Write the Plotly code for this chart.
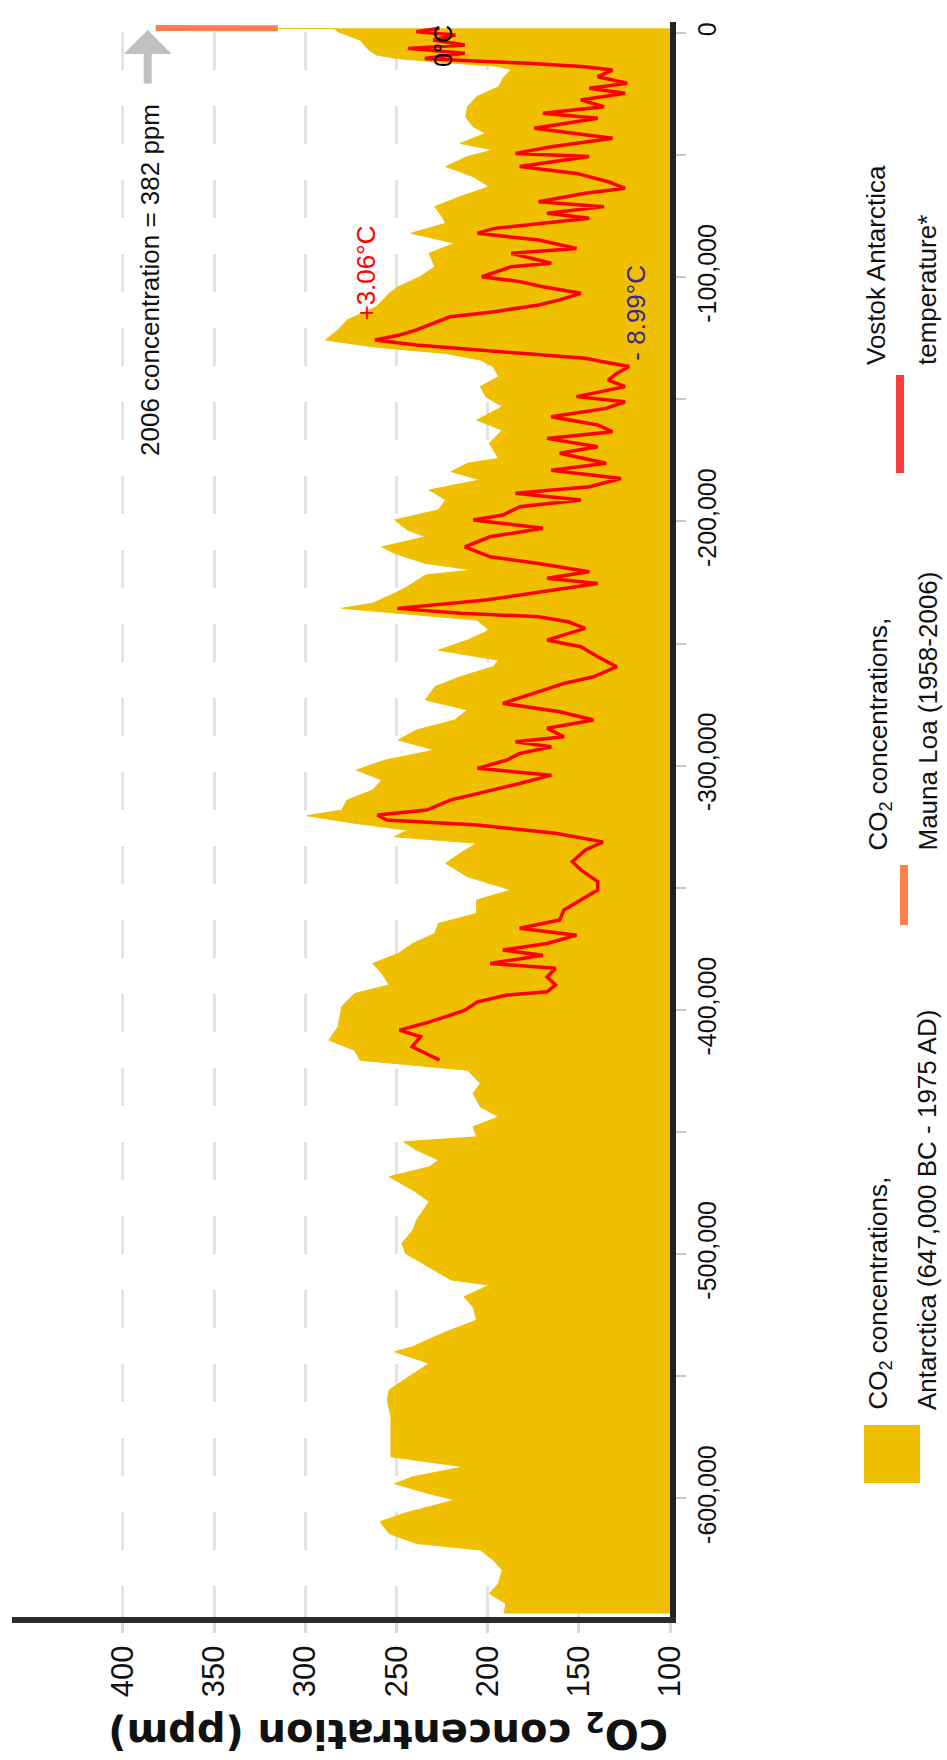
import plotly.graph_objects as go

# --- Antarctic ice-core CO2 (calendar year, ppm), newest first ---
co2_year = [1975, 1900, 1800, 500, -100, -2900, -7000, -9000, -10400, -12000, -13600,
            -15000, -17900, -22000, -26100, -30200, -34300, -38400, -41100, -45200, -47900,
            -50600, -54700, -58800, -62900, -67000, -71100, -75200, -77900, -82000, -86100,
            -90200, -95700, -99800, -103900, -106600, -112100, -117500, -121600, -125700,
            -128500, -131200, -133900, -136600, -140700, -144800, -148900, -153000, -158500,
            -162600, -168000, -174200, -176200, -179600, -183000, -187100, -191200, -195300,
            -199400, -203500, -206300, -210400, -213100, -217200, -219900, -221900, -226700,
            -229400, -233500, -235600, -237600, -240400, -244500, -248600, -252700, -256800,
            -259500, -263600, -267700, -273100, -277200, -281300, -285400, -289500, -293600,
            -297700, -301800, -305900, -310000, -314100, -318200, -320500, -323600, -326400,
            -329100, -331800, -335900, -340000, -345500, -350900, -355000, -360500, -364600,
            -368700, -372800, -376900, -381000, -385100, -389800, -393300, -398700, -406900,
            -412400, -416500, -420600, -421900, -424700, -430100, -434200, -439700, -443800,
            -447900, -452000, -454000, -457400, -461500, -464300, -468300, -473800, -478500,
            -486100, -490200, -495600, -499700, -505200, -510600, -512700, -517500, -521600,
            -527000, -532500, -537900, -540000, -544800, -551600, -555700, -559800, -566600,
            -573400, -583000, -587100, -591200, -594000, -598100, -600700, -606200, -609600,
            -614400, -618500, -621200, -625300, -629400, -634900, -639000, -643100, -647200]
co2_ppm = [331, 296, 284, 282, 280, 270, 265, 261, 250, 225, 195,
           187, 191, 194, 206, 211, 212, 208, 201, 215, 197,
           211, 223, 208, 199, 215, 229, 225, 223, 242, 218,
           232, 229, 237, 249, 254, 261, 277, 282, 289,
           263, 223, 204, 197, 194, 204, 201, 192, 206,
           192, 199, 194, 211, 220, 204, 232, 223, 227,
           251, 244, 234, 258, 251, 234, 208, 234, 244,
           251, 263, 280, 249, 206, 199, 211, 227, 194,
           197, 215, 229, 234, 211, 218, 239, 249, 229,
           256, 272, 258, 263, 277, 280, 299, 273, 244,
           251, 206, 215, 223, 211, 187, 206, 206, 227,
           229, 241, 249, 263, 258, 254, 273, 280, 282,
           287, 273, 270, 251, 211, 204, 208, 204, 194,
           208, 206, 246, 239, 227, 232, 254, 241, 232,
           239, 241, 247, 245, 232, 220, 199, 213, 208,
           206, 225, 241, 251, 232, 246, 254, 255, 253,
           253, 253, 213, 241, 251, 232, 218, 246, 259,
           254, 239, 204, 197, 192, 194, 199, 190, 191]

# --- Mauna Loa CO2 (year, ppm) ---
ml_year = [1958, 1965, 1970, 1975, 1980, 1985, 1990, 1995, 2000, 2006]
ml_ppm = [315, 320, 326, 331, 339, 346, 354, 361, 370, 382]

# --- Vostok temperature anomaly (calendar year, deg C) ---
temp_year = [1900, 500, -800, -2900, -4900, -6300, -8300, -10400, -11700, -12400, -13800,
             -15200, -17900, -20600, -22600, -24700, -27400, -30200, -32900, -34900, -39000,
             -41100, -43100, -46600, -49300, -50600, -54700, -57500, -60900, -63600, -65600,
             -69100, -71100, -73800, -75900, -80000, -82000, -84800, -88200, -90200, -94300,
             -95700, -99800, -101800, -103900, -106600, -109300, -111400, -114100, -116200,
             -118900, -121600, -123700, -125700, -127800, -129100, -130500, -131900, -133200,
             -134600, -136600, -139400, -142100, -144800, -148900, -151000, -153700, -157100,
             -160500, -163300, -166000, -169400, -172100, -176200, -179000, -182400, -185800,
             -188500, -191200, -194000, -197400, -199400, -202800, -206300, -210400, -214500,
             -217200, -220600, -223300, -225400, -228800, -232200, -235600, -237600, -239000,
             -241100, -243800, -248600, -251300, -255400, -259500, -263600, -266300, -270400,
             -274500, -277900, -281300, -284700, -288200, -290200, -292300, -295000, -297700,
             -301100, -303900, -307300, -311400, -314100, -318200, -320200, -322300, -324300,
             -327700, -331200, -334600, -339300, -342700, -347500, -350900, -355000, -359100,
             -363200, -366600, -369400, -372800, -375500, -377600, -381000, -383000, -386500,
             -389800, -392600, -393900, -396700, -400100, -402800, -405500, -408300, -411000,
             -415100, -417800, -420600]
temp_c = [0.0, 1.1, -0.75, 0.3, -1.2, 1.5, -1.2, 0.7, -2.2, -4.2, -6.9,
          -8.2, -7.5, -8.9, -7.1, -8.8, -6.7, -7.8, -4.9, -7.5, -4.5,
          -6.5, -8.2, -5.3, -3.6, -7.1, -3.8, -6.5, -8.0, -8.8, -6.9,
          -4.7, -7.8, -5.1, -7.1, -2.6, -1.8, -4.7, -6.5, -3.4, -5.3,
          -3.4, -2.0, -3.8, -4.9, -6.7, -5.7, -4.7, -2.6, -0.5,
          0.3, 1.1, 1.9, 3.06, 1.1, -0.75, -2.8, -4.9, -6.9,
          -7.75, -8.99, -8.4, -8.0, -8.8, -6.5, -8.8, -7.9, -5.3,
          -7.5, -8.2, -5.1, -7.5, -5.7, -7.9, -5.3, -8.6, -7.1,
          -3.6, -6.7, -3.8, -3.0, -1.6, -4.9, -2.4, -1.2, -2.4,
          -4.7, -7.1, -5.1, -7.5, -4.9, -2.2, 2.0, -1.0, -4.7,
          -6.1, -6.9, -5.1, -6.7, -7.5, -8.4, -7.3, -5.9, -4.5,
          -3.0, -5.7, -7.3, -5.1, -5.9, -3.6, -5.3, -3.8, -3.2,
          -1.8, -5.3, -3.8, -1.8, -0.5, 0.6, 2.95, 2.5, -1.8,
          -5.5, -7.75, -6.9, -6.3, -6.7, -7.5, -7.5, -6.7, -5.9,
          -5.7, -3.8, -6.5, -5.1, -3.0, -4.9, -2.4, -5.5, -5.1,
          -5.5, -5.1, -3.2, -1.8, -1.2, -0.3, 0.7, 1.9, 0.9,
          1.3, 0.7, 0.0]

# --- axis ticks ---
ppm_ticks = [100, 150, 200, 250, 300, 350, 400]
ppm_labels = ["100", "150", "200", "250", "300", "350", "400"]
year_ticks = [0, -100000, -200000, -300000, -400000, -500000, -600000]
year_labels = ["0", "-100,000", "-200,000", "-300,000", "-400,000", "-500,000", "-600,000"]

PPM_FLOOR = 100          # area is filled down to the axis floor
GOLD = "#f0bf00"
RED = "#ff0000"
CORAL = "#ff7f50"
NAVY = "#3a2b8c"
FONT = "Liberation Sans, Arial, sans-serif"
TXT = 26

fig = go.Figure()

# baseline for the area fill
fig.add_trace(go.Scatter(x=[PPM_FLOOR] * len(co2_year), y=co2_year, mode="lines",
                         line=dict(width=0, color=GOLD), hoverinfo="skip"))
# Antarctic CO2 area
fig.add_trace(go.Scatter(x=co2_ppm, y=co2_year, mode="lines", fill="tonextx",
                         fillcolor=GOLD, line=dict(width=1, color=GOLD)))
# Vostok temperature on its own horizontal scale
fig.add_trace(go.Scatter(x=temp_c, y=temp_year, xaxis="x2", mode="lines",
                         line=dict(width=3.5, color=RED)))
# Mauna Loa record
fig.add_trace(go.Scatter(x=ml_ppm, y=ml_year, mode="lines",
                         line=dict(width=6, color=CORAL)))

W, H = 947, 1760
L, R, T, B = 12, 277, 22, 143
PW, PH = W - L - R, H - T - B


def px(xp):
    return (xp - L) / PW


def py(yp):
    return (H - B - yp) / PH


def vtext(text, x, y, size=TXT, color="#111", **kw):
    """Text read bottom-to-top, anchored by its lower end."""
    d = dict(text=text, xref="paper", yref="paper", x=px(x), y=py(y),
             xanchor="center", yanchor="bottom", textangle=-90, showarrow=False,
             font=dict(size=size, color=color))
    d.update(kw)
    return d


annotations = [
    # axis title, upside down
    dict(text="<b>CO<sub>2</sub> concentration (ppm)</b>", xref="paper", yref="paper",
         x=px(388), y=py(1731), xanchor="center", yanchor="middle", textangle=180,
         showarrow=False, font=dict(family="DejaVu Sans", size=40, color="#111")),
    # 2006 note + arrow
    vtext("2006 concentration = 382 ppm", 150, 458),
    dict(text=" ", x=ml_ppm[-1], y=ml_year[-1], xref="x", yref="y", xshift=-8, yshift=-2,
         showarrow=True, ax=0, ay=62, arrowhead=1, arrowsize=1, arrowwidth=8,
         arrowcolor="#c0c0c0"),
    # temperature extremes
    dict(text="+3.06°C", xref="x2", yref="y", x=3.06, y=-125700, xanchor="center",
         yanchor="bottom", xshift=-9, yshift=17, textangle=-90, showarrow=False,
         font=dict(size=TXT, color=RED)),
    dict(text="- 8.99°C", xref="x2", yref="y", x=-8.99, y=-136600, xanchor="center",
         yanchor="bottom", xshift=6, yshift=4, textangle=-90, showarrow=False,
         font=dict(size=TXT, color=NAVY)),
    dict(text="0°C", xref="x2", yref="y", x=0, y=1900, xanchor="center",
         yanchor="top", xshift=4, yshift=5, textangle=-90, showarrow=False,
         font=dict(size=25, color="#000")),
    # legend texts
    vtext("CO<sub>2</sub> concentrations,", 879, 1412),
    vtext("Antarctica (647,000 BC - 1975 AD)", 927, 1412),
    vtext("CO<sub>2</sub> concentrations,", 879, 853),
    vtext("Mauna Loa (1958-2006)", 927, 853),
    vtext("Vostok Antarctica", 876, 367),
    vtext("temperature*", 927, 367),
]

shapes = [
    dict(type="rect", xref="paper", yref="paper", x0=px(864), x1=px(920),
         y0=py(1483), y1=py(1425), fillcolor=GOLD, line=dict(width=0)),
    dict(type="line", xref="paper", yref="paper", x0=px(904), x1=px(904),
         y0=py(925), y1=py(865), line=dict(color=CORAL, width=8)),
    dict(type="line", xref="paper", yref="paper", x0=px(900), x1=px(900),
         y0=py(473), y1=py(375), line=dict(color="#ff3b3b", width=8)),
]

fig.update_layout(
    width=W, height=H,
    margin=dict(l=L, r=R, t=T, b=B),
    paper_bgcolor="white", plot_bgcolor="white",
    font=dict(family=FONT, color="#111"),
    showlegend=False,
    xaxis=dict(range=[460.8, 100], tickmode="array", tickvals=ppm_ticks, ticktext=ppm_labels,
               tickangle=-90, ticks="outside", ticklen=10, tickwidth=3, tickcolor="#d9d9d9",
               tickfont=dict(size=31, color="#111"),
               showgrid=True, gridcolor="#e3e3e3", gridwidth=3,
               griddash="0px,10px,38px,26px",
               showline=True, linecolor="#2b2b2b", linewidth=6, zeroline=False),
    xaxis2=dict(overlaying="x", range=[20.28, -10.93], visible=False),
    yaxis=dict(side="right", range=[-648600, 4500], tickmode="array", tickvals=year_ticks,
               ticktext=year_labels, tickangle=-90, ticks="outside", ticklen=10,
               tickwidth=2, tickcolor="#c8c8c8", tickfont=dict(size=25, color="#111"),
               minor=dict(ticks="outside", ticklen=10, tickwidth=2, tickcolor="#c8c8c8",
                          dtick=50000, tick0=0),
               showgrid=False, showline=True, linecolor="#222222", linewidth=6,
               zeroline=False),
    annotations=annotations,
    shapes=shapes,
)

fig.write_html("out.html")
